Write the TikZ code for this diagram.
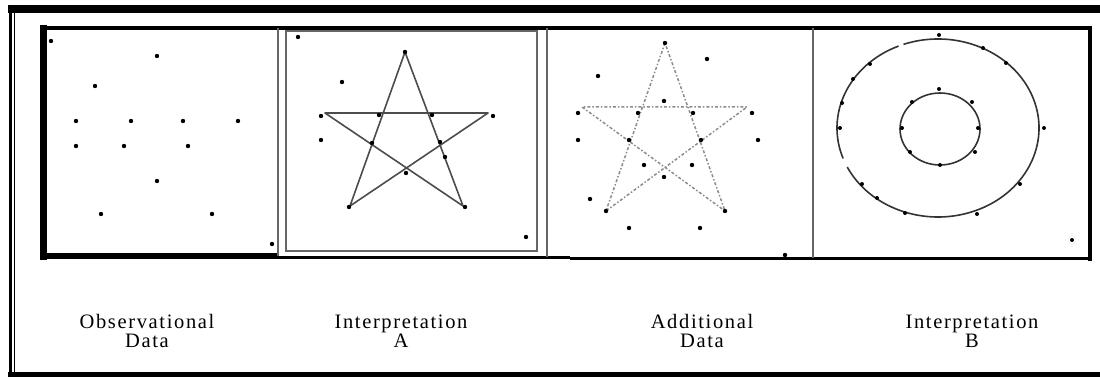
\documentclass[tikz,border=0pt]{standalone}
\usepackage{fontspec}
\setmainfont{Liberation Serif}
\newfontfamily\labfont[LetterSpace=8]{Liberation Serif}
\begin{document}
\begin{tikzpicture}[x=1pt,y=-1pt,
  frameline/.style={black,line width=4pt},
  divider/.style={gray!80!black,line width=2pt},
  starA/.style={black!70,line width=1.6pt,line join=round},
  starB/.style={black!45,line width=1.5pt,dash dot,line join=round},
  ring/.style={black!80,line width=1.6pt},
  lab/.style={align=center,inner sep=0pt,font={\labfont\fontsize{20.5}{19}\selectfont}}]
\useasboundingbox (0,0) rectangle (1100,377);
% outer frame
\fill[black] (8,5) rectangle (1100,13);
\fill[black] (8,372) rectangle (1100,377);
\draw[black,line width=3pt] (10,5) -- (10,377);
\draw[black,line width=1pt] (14.5,12) -- (14.5,373);
% panel frame
\draw[frameline] (40,28) -- (1092,28);
\draw[frameline] (1090,26) -- (1090,261);
\draw[black,line width=3pt] (278,257) -- (570,257);
\draw[black,line width=3pt] (570,258.5) -- (1092,258.5);
\draw[black,line width=7pt] (43.5,25) -- (43.5,259.5);
\draw[black,line width=6pt] (40,256) -- (279,256);
% dividers
\draw[divider] (278,28) -- (278,256);
\draw[divider] (286,31) rectangle (537,251);
\draw[divider] (547,28) -- (547,257);
\draw[divider] (813,28) -- (813,258);
% panel 1 dots
\foreach \p in {(51,41),(157,56),(95,86),(76,121),(131,121),(183,121),(238,121),(76,146),(124,146),(188,146),(157,181),(101,214),(212,214),(272,244)}
  \fill \p circle[radius=2.2];
% panel 2 star
\coordinate (aT) at (405,52);
\coordinate (aL) at (325,113);
\coordinate (aR) at (488,113);
\coordinate (aBL) at (350,206);
\coordinate (aBR) at (463,206);
\draw[starA] (aT) -- (aBL) -- (aR) -- (aL) -- (aBR) -- cycle;
\foreach \p in {(298,37),(342,82),(405,52),(321,116),(379,115),(432,115),(493,116),(321,140),(372,143),(440,142),(445,157),(406,173),(349,207),(465,207),(526,237)}
  \fill \p circle[radius=2.2];
% panel 3 star
\coordinate (bT) at (665,43);
\coordinate (bL) at (582,107);
\coordinate (bR) at (747,107);
\coordinate (bBL) at (606,211);
\coordinate (bBR) at (725,211);
\draw[starB] (bT) -- (bBL) -- (bR) -- (bL) -- (bBR) -- cycle;
\foreach \p in {(665,43),(707,59),(598,76),(664,101),(578,113),(638,113),(693,113),(752,113),(578,140),(629,140),(701,140),(758,140),(644,165),(692,165),(664,177),(590,199),(606,211),(725,211),(629,228),(700,228),(785,255)}
  \fill \p circle[radius=2.2];
% panel 4 rings
\coordinate (cO) at (938,128);
\coordinate (cI) at (940,129);
\draw[ring] (cO) ++(-110:101 and 89) arc[start angle=-110,end angle=154,x radius=101,y radius=89];
\draw[ring] (cO) ++(160:101 and 89) arc[start angle=160,end angle=247,x radius=101,y radius=89];
\draw[ring] (cI) ellipse[x radius=40,y radius=36];
\foreach \p in {(939,35),(983,48),(1006,63),(870,64),(853,79),(842,103),(840,128),(1044,128),(862,184),(877,198),(905,213),(977,214),(1020,184),(1072,240),(939,89),(912,102),(972,102),(902,128),(978,128),(910,152),(975,152),(940,165)}
  \fill \p circle[radius=2];
% labels
\node[lab] (l1) at (147,331) {Observational\\Data};
\node[lab] (l2) at (401,331) {Interpretation\\A};
\node[lab] (l3) at (702,331) {Additional\\Data};
\node[lab] (l4) at (972,331) {Interpretation\\B};
\end{tikzpicture}
\end{document}
